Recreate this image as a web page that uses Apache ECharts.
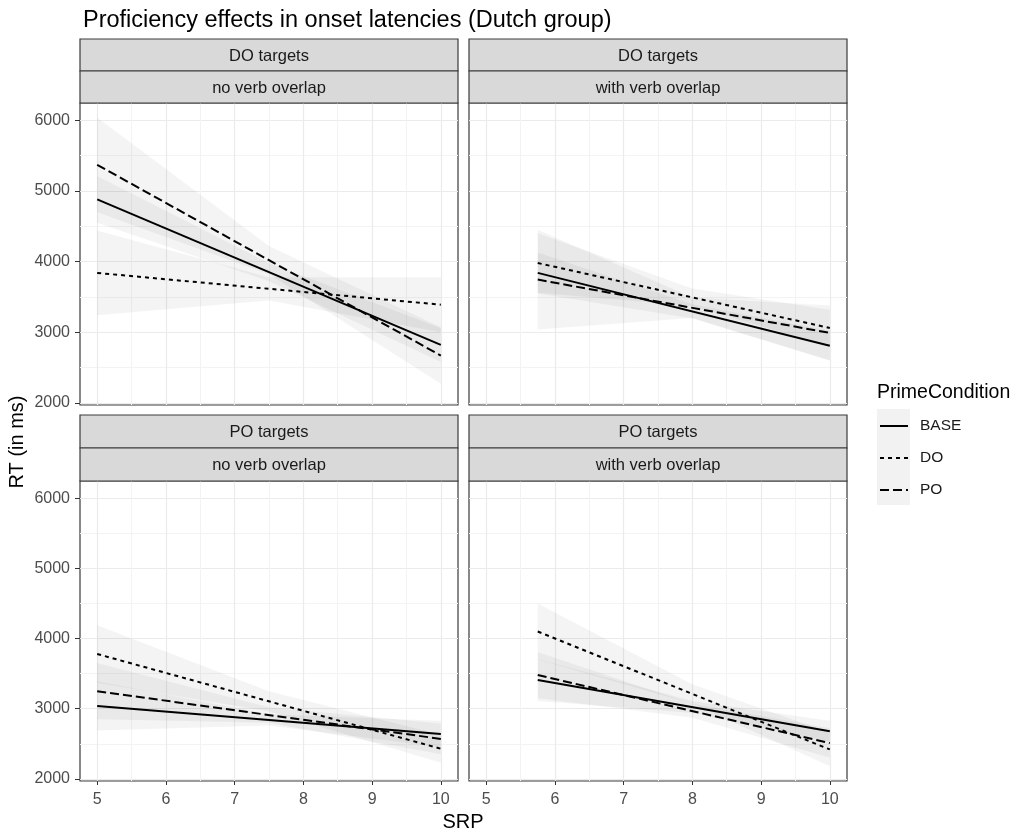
<!DOCTYPE html>
<html>
<head>
<meta charset="utf-8">
<script src="https://cdn.jsdelivr.net/npm/echarts@6/dist/echarts.min.js"></script>
<style>
  html, body { margin: 0; padding: 0; background: #ffffff; }
  #chart { width: 1020px; height: 834px; }
</style>
</head>
<body>
<div id="chart"></div>
<script>
// ---- data ----------------------------------------------------------------
const conditions = ['BASE', 'DO', 'PO'];
const panelTargets = ['DO targets', 'DO targets', 'PO targets', 'PO targets'];
const panelOverlap = ['no verb overlap', 'with verb overlap', 'no verb overlap', 'with verb overlap'];

// fitted regression lines: SRP endpoints and predicted RT at those endpoints
const lineSRP = [[5, 10], [5.75, 10], [5, 10], [5.75, 10]];
const baseRT = [[4880, 2820], [3840, 2810], [3040, 2640], [3410, 2680]];
const doRT   = [[3840, 3390], [3980, 3060], [3780, 2430], [4100, 2420]];
const poRT   = [[5370, 2670], [3745, 2990], [3250, 2570], [3480, 2510]];

// confidence bands: SRP positions and lower / upper RT bounds
const bandSRP = [[5, 7.5, 10], [5.75, 8, 10], [5, 7.5, 10], [5.75, 8, 10]];
const baseLower = [[4550, 3720, 2580], [3550, 3195, 2600], [2690, 2760, 2450], [3110, 2940, 2530]];
const baseUpper = [[5210, 3980, 3060], [4130, 3395, 3020], [3390, 2920, 2830], [3710, 3110, 2830]];
const doLower   = [[3240, 3450, 3000], [3560, 3370, 2800], [3370, 2960, 2230], [3700, 3070, 2180]];
const doUpper   = [[4440, 3780, 3780], [4400, 3620, 3320], [4190, 3250, 2630], [4500, 3350, 2660]];
const poLower   = [[4700, 3820, 2270], [3040, 3200, 2600], [2850, 2800, 2350], [3150, 2870, 2300]];
const poUpper   = [[6040, 4220, 3070], [4450, 3490, 3380], [3650, 3020, 2790], [3810, 3070, 2720]];

// axis ticks
const srpTicks = [5, 6, 7, 8, 9, 10];
const srpMinor = [5.5, 6.5, 7.5, 8.5, 9.5];
const rtTicks = [2000, 3000, 4000, 5000, 6000];
const rtMinor = [2500, 3500, 4500, 5500];

// ---- styling ---------------------------------------------------------------
const FONT = '"Liberation Sans", Arial, Helvetica, sans-serif';
const INK = '#1a1a1a';
const TICK_INK = '#4d4d4d';
const GRID_MAJOR = '#ebebeb';
const GRID_MINOR = '#f3f3f3';
const BAND_FILL = 'rgba(0,0,0,0.045)';
const lineTypes = { BASE: 'solid', DO: [4, 4], PO: [9, 4] };

const panels = [
  { left: 80,  top: 103, width: 378, height: 302, stripH: 32, showX: false, showY: true },
  { left: 469, top: 103, width: 378, height: 302, stripH: 32, showX: false, showY: false },
  { left: 80,  top: 481, width: 378, height: 300, stripH: 33, showX: true,  showY: true },
  { left: 469, top: 481, width: 378, height: 300, stripH: 33, showX: true,  showY: false }
];
const srpRange = [4.75, 10.25];
const rtRange = [1970, 6245];

const lineData = { BASE: baseRT, DO: doRT, PO: poRT };
const bandData = {
  BASE: [baseLower, baseUpper],
  DO: [doLower, doUpper],
  PO: [poLower, poUpper]
};

// one ribbon polygon per series, built from all of its rows [x, lower, upper]
function renderRibbon(params, api) {
  if (params.dataIndexInside !== 0) return null;
  const n = params.dataInsideLength;
  const upper = [], lower = [];
  for (let k = 0; k < n; k++) {
    upper.push(api.coord([api.value(0, k), api.value(2, k)]));
    lower.push(api.coord([api.value(0, k), api.value(1, k)]));
  }
  return {
    type: 'polygon',
    shape: { points: upper.concat(lower.reverse()) },
    style: { fill: BAND_FILL }
  };
}

const grid = [], xAxis = [], yAxis = [], series = [], graphic = [];

panels.forEach((p, i) => {
  grid.push({
    left: p.left, top: p.top, width: p.width, height: p.height,
    show: true, backgroundColor: '#ffffff', borderColor: '#3a3a3a', borderWidth: 1.2,
    outerBoundsMode: 'none', containLabel: false
  });

  // main SRP axis: labels, ticks and major grid lines
  xAxis.push({
    type: 'value', gridIndex: i, min: srpRange[0], max: srpRange[1], position: 'bottom',
    axisLine: { show: false },
    axisTick: { show: p.showX, length: 4, lineStyle: { color: '#333333', width: 1 }, customValues: srpTicks },
    axisLabel: { show: p.showX, customValues: srpTicks, color: TICK_INK, fontSize: 16, fontFamily: FONT, margin: 11 },
    splitLine: { show: true, lineStyle: { color: GRID_MAJOR, width: 1.2 } }
  });
  // minor SRP grid lines
  xAxis.push({
    type: 'value', gridIndex: i, min: srpRange[0], max: srpRange[1], position: 'top',
    axisLine: { show: false },
    axisTick: { show: false, customValues: srpMinor },
    axisLabel: { show: false, customValues: srpMinor },
    splitLine: { show: true, lineStyle: { color: GRID_MINOR, width: 1 } }
  });

  yAxis.push({
    type: 'value', gridIndex: i, min: rtRange[0], max: rtRange[1], position: 'left',
    axisLine: { show: false },
    axisTick: { show: p.showY, length: 5, lineStyle: { color: '#333333', width: 1 }, customValues: rtTicks },
    axisLabel: {
      show: p.showY, customValues: rtTicks, color: TICK_INK, fontSize: 16, fontFamily: FONT, margin: 10,
      formatter: v => String(v)
    },
    splitLine: { show: true, lineStyle: { color: GRID_MAJOR, width: 1.2 } }
  });
  yAxis.push({
    type: 'value', gridIndex: i, min: rtRange[0], max: rtRange[1], position: 'right',
    axisLine: { show: false },
    axisTick: { show: false, customValues: rtMinor },
    axisLabel: { show: false, customValues: rtMinor },
    splitLine: { show: true, lineStyle: { color: GRID_MINOR, width: 1 } }
  });

  const xi = i * 2, yi = i * 2;

  // confidence ribbons
  conditions.forEach(c => {
    const lo = bandData[c][0][i];
    const hi = bandData[c][1][i];
    series.push({
      name: c + ' ribbon', type: 'custom', xAxisIndex: xi, yAxisIndex: yi,
      silent: true, z: 1,
      encode: { x: 0, y: [1, 2] },
      data: bandSRP[i].map((x, k) => [x, lo[k], hi[k]]),
      renderItem: renderRibbon
    });
  });

  // fitted lines
  conditions.forEach(c => {
    series.push({
      name: c, type: 'line', xAxisIndex: xi, yAxisIndex: yi,
      symbol: 'none', z: 3,
      lineStyle: { color: '#000000', width: 2, type: lineTypes[c] },
      itemStyle: { color: '#000000' },
      data: lineSRP[i].map((x, k) => [x, lineData[c][i][k]])
    });
  });

  // facet strips
  const stripTop = p.top - 2 * p.stripH;
  [panelTargets[i], panelOverlap[i]].forEach((label, k) => {
    const y0 = stripTop + k * p.stripH;
    graphic.push({
      type: 'rect', silent: true, z: 5,
      shape: { x: p.left, y: y0, width: p.width, height: p.stripH },
      style: { fill: '#d9d9d9', stroke: '#3a3a3a', lineWidth: 1.2 }
    });
    graphic.push({
      type: 'text', silent: true, z: 6,
      x: p.left + p.width / 2, y: y0 + p.stripH / 2 + 1,
      style: { text: label, align: 'center', verticalAlign: 'middle', font: '16.5px ' + FONT, fill: INK }
    });
  });
});

// axis titles
graphic.push({
  type: 'text', silent: true,
  x: 17, y: 442, rotation: Math.PI / 2,
  style: { text: 'RT (in ms)', align: 'center', verticalAlign: 'middle', font: '20px ' + FONT, fill: '#000000' }
});
graphic.push({
  type: 'text', silent: true,
  x: 463, y: 822,
  style: { text: 'SRP', align: 'center', verticalAlign: 'middle', font: '20px ' + FONT, fill: '#000000' }
});

// legend title and key backgrounds
graphic.push({
  type: 'text', silent: true,
  x: 877, y: 393,
  style: { text: 'PrimeCondition', align: 'left', verticalAlign: 'middle', font: '19.5px ' + FONT, fill: '#000000' }
});
graphic.push({
  type: 'rect', silent: true, z: 0,
  shape: { x: 877, y: 409, width: 33, height: 96 },
  style: { fill: '#f2f2f2' }
});

const option = {
  backgroundColor: '#ffffff',
  animation: false,
  textStyle: { fontFamily: FONT },
  title: {
    text: 'Proficiency effects in onset latencies (Dutch group)',
    left: 78, top: 4,
    textStyle: { fontSize: 23.5, fontWeight: 'normal', color: '#000000', fontFamily: FONT }
  },
  legend: {
    data: conditions,
    orient: 'vertical',
    left: 879, top: 418,
    padding: 0,
    itemWidth: 28, itemHeight: 20, itemGap: 16,
    selectedMode: false,
    itemStyle: { opacity: 0 },
    textStyle: { fontSize: 15.5, color: INK, fontFamily: FONT, padding: [0, 0, 0, 7] }
  },
  grid, xAxis, yAxis, series, graphic
};

const chart = echarts.init(document.getElementById('chart'), null, { renderer: 'canvas' });
chart.setOption(option);
</script>
</body>
</html>
